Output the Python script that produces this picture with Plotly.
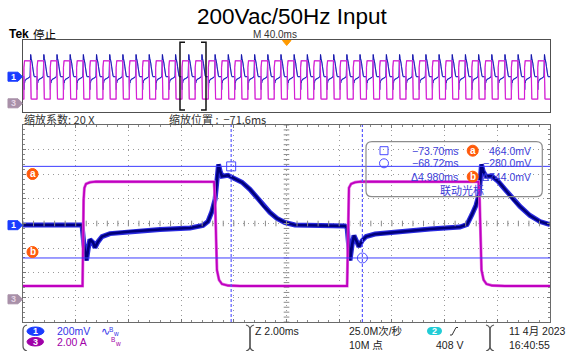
import numpy as np
import plotly.graph_objects as go

W, H = 566, 351

# ---------------- data ----------------
# Channel 1 (voltage, V) in the zoom window, time in ms
t1 = [-81.60, -79.36, -79.29, -79.19, -79.13, -79.06, -78.94, -78.87, -78.75, -78.60,
      -78.30, -77.54, -76.40, -75.26, -74.77, -74.58, -74.43, -74.31, -74.24, -74.18,
      -74.12, -74.05, -73.82, -73.55, -73.29, -72.99, -72.72, -72.49, -72.23, -71.96,
      -71.66, -71.28, -70.33, -69.38,
      -69.30, -69.25, -69.19, -69.11, -69.04, -68.92, -68.85, -68.73, -68.58, -68.24,
      -67.29, -66.15, -65.02, -64.75, -64.56, -64.41, -64.29, -64.24, -64.20, -64.14,
      -64.03, -63.80, -63.57, -63.31, -63.00, -62.74, -62.36, -61.98, -61.60]
v1 = [-0.012, -0.012, -0.17, -0.30, -0.21, -0.13, -0.155, -0.196, -0.147, -0.106,
      -0.082, -0.065, -0.049, -0.037, -0.016, 0.016, 0.098, 0.196, 0.36, 0.48,
      0.425, 0.384, 0.392, 0.36, 0.335, 0.278, 0.213, 0.147, 0.09, 0.041,
      0.008, -0.012, -0.016, -0.020,
      -0.033, -0.17, -0.30, -0.17, -0.098, -0.155, -0.188, -0.139, -0.106, -0.086,
      -0.065, -0.045, -0.029, -0.008, 0.074, 0.147, 0.237, 0.376, 0.48, 0.425,
      0.384, 0.384, 0.343, 0.278, 0.196, 0.139, 0.065, 0.016, -0.008]

# Channel 3 (current, A)
t3 = [-81.60, -79.34, -79.30, -79.27, -79.21, -79.06, -78.83, -74.35, -74.31, -74.28,
      -74.24, -74.16, -74.05, -73.82, -73.36,
      -69.30, -69.26, -69.23, -69.15, -69.00, -68.77, -64.31, -64.27, -64.24,
      -64.20, -64.12, -64.01, -63.80, -63.31, -61.60]
i3 = [1.08, 1.08, 8.07, 9.05, 9.37, 9.50, 9.56, 9.54, 8.07, 4.00,
      2.38, 1.57, 1.24, 1.12, 1.08,
      1.08, 8.07, 9.05, 9.37, 9.50, 9.56, 9.54, 8.07, 4.00,
      2.38, 1.57, 1.24, 1.12, 1.08, 1.08]

cursor_t = [-73.70, -68.72]     # ms
cursor_v = [0.464, -0.280]      # V
period_ms = 10.0
zoom_range = [-81.6, -61.6]
main_range = [-200.0, 200.0]
ch1_range = [-0.8, 0.8]
ch3_range = [-1.844, 14.156]

readout_time = ["\u221273.70ms", "\u221268.72ms", "\u03944.980ms"]
readout_volt = ["464.0mV", "\u2212280.0mV", "\u0394744.0mV"]

# ---------------- helpers ----------------
def px(x):
    return x / W

def py(y):
    return 1 - y / H

LAT = "Liberation Sans, Arial, Noto Sans CJK SC"
CJK = "Noto Sans CJK SC, Liberation Sans"

annotations = []
shapes = []

def txt(x, y, s, size=10, color="#222", anchor="left", family=LAT, vanchor="middle"):
    annotations.append(dict(x=px(x), y=py(y), xref="paper", yref="paper", text=s,
                            showarrow=False, xanchor=anchor, yanchor=vanchor,
                            font=dict(size=size, color=color, family=family),
                            borderpad=0))

def P(x, y):
    return f"{px(x):.5f},{py(y):.5f}"

def path(cmds, color, width=1, fill=None, close=False):
    d = []
    for cmd in cmds:
        op, nums = cmd[0], cmd[1:]
        if op in ("M", "L"):
            for k in range(0, len(nums), 2):
                d.append(f"{op}{P(nums[k], nums[k+1])}")
        elif op == "Q":
            for k in range(0, len(nums), 4):
                d.append(f"Q{P(nums[k], nums[k+1])} {P(nums[k+2], nums[k+3])}")
    s = " ".join(d)
    if close:
        s += " Z"
    shapes.append(dict(type="path", path=s, xref="paper", yref="paper",
                       line=dict(color=color, width=width),
                       fillcolor=fill if fill else "rgba(0,0,0,0)", layer="above"))

def ellipse(x0, y0, x1, y1, fill, line=None, width=1):
    shapes.append(dict(type="circle", xref="paper", yref="paper",
                       x0=px(x0), x1=px(x1), y0=py(y1), y1=py(y0),
                       fillcolor=fill, line=dict(color=line if line else fill, width=width),
                       layer="above"))

def rect(x0, y0, x1, y1, line, width=1, fill="rgba(0,0,0,0)"):
    shapes.append(dict(type="rect", xref="paper", yref="paper",
                       x0=px(x0), x1=px(x1), y0=py(y1), y1=py(y0),
                       fillcolor=fill, line=dict(color=line, width=width), layer="above"))

# ---------------- overview (tile the measured cycle) ----------------
t1a, v1a = np.array(t1), np.array(v1)
t3a, i3a = np.array(t3), np.array(i3)
m1 = (t1a >= -79.40) & (t1a < -69.40)
m3 = (t3a >= -79.40) & (t3a < -69.40)
ks = range(-13, 29)
ot1 = np.concatenate([t1a[m1] + period_ms * k for k in ks])
ov1 = np.tile(v1a[m1], len(ks))
ot3 = np.concatenate([t3a[m3] + period_ms * k for k in ks])
oi3 = np.tile(i3a[m3], len(ks))

fig = go.Figure()

# overview traces
fig.add_trace(go.Scatter(x=ot3, y=oi3, xaxis="x2", yaxis="y4", mode="lines",
                         line=dict(color="#e27ae2", width=1.3), hoverinfo="skip"))
fig.add_trace(go.Scatter(x=ot3, y=oi3, xaxis="x2", yaxis="y4", mode="lines",
                         line=dict(color="#d000d0", width=0.8), hoverinfo="skip"))
fig.add_trace(go.Scatter(x=ot1, y=ov1, xaxis="x2", yaxis="y3", mode="lines",
                         line=dict(color="#7070ff", width=1.2), hoverinfo="skip"))
fig.add_trace(go.Scatter(x=ot1, y=ov1, xaxis="x2", yaxis="y3", mode="lines",
                         line=dict(color="#10109a", width=0.8), hoverinfo="skip"))

# main traces
fig.add_trace(go.Scatter(x=t3, y=i3, xaxis="x", yaxis="y2", mode="lines",
                         line=dict(color="#e070e0", width=3), hoverinfo="skip"))
fig.add_trace(go.Scatter(x=t3, y=i3, xaxis="x", yaxis="y2", mode="lines",
                         line=dict(color="#c000c0", width=1.8), hoverinfo="skip"))
fig.add_trace(go.Scatter(x=t1, y=v1, xaxis="x", yaxis="y", mode="lines",
                         line=dict(color="#2a2ae0", width=5), hoverinfo="skip"))
fig.add_trace(go.Scatter(x=t1, y=v1, xaxis="x", yaxis="y", mode="lines",
                         line=dict(color="#00007a", width=2.6), hoverinfo="skip"))

# center crosshair ticks
minor_t = [zoom_range[0] + 0.4 * k for k in range(51)]
minor_v = [ch1_range[0] + 0.04 * k for k in range(41)]
fig.add_trace(go.Scatter(x=[-71.6] * len(minor_v), y=minor_v, xaxis="x", yaxis="y",
                         mode="markers", marker=dict(symbol="line-ew", size=4,
                         line=dict(color="#8a8a8a", width=1)), hoverinfo="skip"))
fig.add_trace(go.Scatter(x=minor_t, y=[0] * len(minor_t), xaxis="x", yaxis="y",
                         mode="markers", marker=dict(symbol="line-ns", size=4,
                         line=dict(color="#8a8a8a", width=1)), hoverinfo="skip"))

# cursor markers
fig.add_trace(go.Scatter(x=[cursor_t[0]], y=[cursor_v[0]], xaxis="x", yaxis="y",
                         mode="markers", marker=dict(symbol="square-open", size=9,
                         color="#4a4aff", line=dict(width=1)), hoverinfo="skip"))
fig.add_trace(go.Scatter(x=[cursor_t[1]], y=[cursor_v[1]], xaxis="x", yaxis="y",
                         mode="markers", marker=dict(symbol="circle-open", size=10,
                         color="#4a4aff", line=dict(width=1)), hoverinfo="skip"))

# cursor lines
for v in cursor_v:
    shapes.append(dict(type="line", xref="x domain", yref="y", x0=0, x1=1, y0=v, y1=v,
                       line=dict(color="#3c3cff", width=1), layer="above"))
for t in cursor_t:
    shapes.append(dict(type="line", xref="x", yref="y domain", x0=t, x1=t, y0=0, y1=1,
                       line=dict(color="#5a5aff", width=1.2, dash="3px,2px"), layer="above"))

# ---------------- decorations ----------------
# overview bracket (zoom window)
path([("M", 185, 42.3), ("L", 180, 42.3, 180, 110, 185, 110)], "#111", 1.5)
path([("M", 201, 42.3), ("L", 206, 42.3, 206, 110, 201, 110)], "#111", 1.5)
# trigger marker
path([("M", 282.5, 40.5), ("L", 291, 40.5, 286.7, 45.5)], "#ff9a00", 1, "#ff9a00", True)

# channel markers
def chmark(yc, fill, label, tcol):
    path([("M", 8, yc - 4.5), ("L", 18, yc - 4.5, 22.5, yc, 18, yc + 4.5, 8, yc + 4.5)],
         fill, 1, fill, True)
    txt(13.5, yc, f"<b>{label}</b>", 9, tcol, "center")

chmark(76.7, "#1a3cff", "1", "#ffffff")
chmark(103.3, "#a890a8", "3", "#e4d4e4")
chmark(225.2, "#1a3cff", "1", "#ffffff")
chmark(299.3, "#a890a8", "3", "#e4d4e4")

# a / b markers
for (cx, cy, lab) in [(32.5, 174, "a"), (32.5, 252, "b"), (472.7, 150.7, "a"), (472.7, 176.7, "b")]:
    ellipse(cx - 5.5, cy - 5.5, cx + 5.5, cy + 5.5, "#ff5a0a")
    txt(cx, cy - 0.5, f"<b>{lab}</b>", 10, "#ffffff", "center")

# readout box
x0b, y0b, x1b, y1b, r = 366, 141.7, 542.3, 196.7, 6
path([("M", x0b + r, y0b), ("L", x1b - r, y0b), ("Q", x1b, y0b, x1b, y0b + r),
      ("L", x1b, y1b - r), ("Q", x1b, y1b, x1b - r, y1b), ("L", x0b + r, y1b),
      ("Q", x0b, y1b, x0b, y1b - r), ("L", x0b, y0b + r), ("Q", x0b, y0b, x0b + r, y0b)],
     "#8c8c8c", 1.2)
rect(380, 146.7, 388, 154.7, "#4a4aff", 1)
ellipse(379.5, 158.8, 388.5, 167.8, "rgba(0,0,0,0)", "#4a4aff", 1)
rc = "#3c3cd8"
rows = [150.7, 163.3, 176.7]
for k in range(3):
    txt(458.5, rows[k], readout_time[k], 10.5, rc, "right")
    txt(532, rows[k], readout_volt[k], 10.5, rc, "right")
txt(461.7, 190, "联动光标", 11, rc, "center", CJK)

# top texts
txt(292, 16.5, "200Vac/50Hz Input", 22.5, "#000000", "center")
txt(7.5, 33.5, "<b>Tek</b>", 12, "#000000", "left")
txt(32, 33.5, "停止", 11.5, "#000000", "left", CJK)
txt(275, 34.5, "M 40.0ms", 10, "#333333", "center")
txt(23, 118.5, "缩放系数: 20 X", 11, "#333333", "left", CJK)
txt(168, 118.5, "缩放位置 :  \u221271.6ms", 11, "#333333", "left", CJK)

# bottom info bar
path([("M", 27, 325), ("Q", 23, 326, 23, 330), ("L", 23, 346), ("Q", 23, 350, 27, 351)], "#555", 1.2)
for xs in [250, 490]:
    path([("M", xs - 4, 325), ("Q", xs, 326, xs, 330), ("L", xs, 346), ("Q", xs, 350, xs - 4, 351)], "#555", 1.2)
    path([("M", xs + 4, 325), ("Q", xs, 326, xs, 330), ("L", xs, 346), ("Q", xs, 350, xs + 4, 351)], "#555", 1.2)

ellipse(27, 327, 44, 335.5, "#1a3cff")
txt(35.5, 331.2, "<b>1</b>", 9, "#ffffff", "center")
ellipse(27, 337.5, 43.5, 346, "#a000a8")
txt(35.3, 341.7, "<b>3</b>", 9, "#ffffff", "center")
txt(56, 331.2, "200mV", 10.5, "#3434e8", "left")
txt(56, 342, "2.00 A", 10.5, "#a000a8", "left")
txt(100, 331.5, "\u223f", 11, "#3434e8", "left", "DejaVu Sans")
txt(108, 329, "B", 6.5, "#3434e8", "left")
txt(112, 333, "w", 6.5, "#3434e8", "left")
txt(110, 339.5, "B", 6.5, "#a000a8", "left")
txt(114, 343.5, "w", 6.5, "#a000a8", "left")

txt(254, 331.2, "Z 2.00ms", 10.5, "#222", "left")
txt(348, 331.2, "25.0M次/秒", 10.5, "#222", "left", LAT)
txt(348, 344.5, "10M 点", 10.5, "#222", "left", LAT)
path([("M", 431, 327.5), ("L", 438, 327.5), ("Q", 441.5, 327.5, 441.5, 331),
      ("Q", 441.5, 334.5, 438, 334.5), ("L", 431, 334.5), ("Q", 427.5, 334.5, 427.5, 331),
      ("Q", 427.5, 327.5, 431, 327.5)], "#22ccd6", 1, "#22ccd6", True)
txt(434.5, 331.2, "<b>2</b>", 9, "#ffffff", "center")
path([("M", 450, 335), ("L", 452, 335, 456, 327.5, 458, 327.5)], "#333", 1)
txt(435, 344.5, "408 V", 10.5, "#222", "left")
txt(508, 331.2, "11 4月 2023", 10.5, "#222", "left", LAT)
txt(508, 344.5, "16:40:55", 10.5, "#222", "left")

# ---------------- axes ----------------
xdom = [px(23), px(550)]
main_dom = [py(322), py(125)]
over_dom = [py(112.3), py(40)]
grid = dict(gridcolor="#9a9a9a", griddash="1px,4px", gridwidth=1)

fig.update_layout(
    width=W, height=H, margin=dict(l=0, r=0, t=0, b=0),
    paper_bgcolor="white", plot_bgcolor="white", showlegend=False,
    xaxis=dict(domain=xdom, range=zoom_range, anchor="y", showgrid=True, tick0=zoom_range[0],
               dtick=2, zeroline=False, showticklabels=False, ticks="inside", ticklen=3,
               tickcolor="#777", showline=True, linecolor="#6a6a6a", linewidth=1.2,
               mirror="ticks", minor=dict(ticks="inside", ticklen=2, dtick=0.4,
                                          tickcolor="#888", showgrid=False), **grid),
    yaxis=dict(domain=main_dom, range=ch1_range, anchor="x", showgrid=True, tick0=0, dtick=0.2,
               zeroline=False, showticklabels=False, ticks="inside", ticklen=3, tickcolor="#777",
               showline=True, linecolor="#6a6a6a", linewidth=1.2, mirror="ticks",
               minor=dict(ticks="inside", ticklen=2, dtick=0.04, tickcolor="#888",
                          showgrid=False), **grid),
    yaxis2=dict(overlaying="y", range=ch3_range, visible=False, anchor="x"),
    xaxis2=dict(domain=xdom, range=main_range, anchor="y3", showgrid=False, zeroline=False,
                showticklabels=False, showline=True, linecolor="#505050", linewidth=1.2,
                mirror=True, ticks=""),
    yaxis3=dict(domain=over_dom, range=ch1_range, anchor="x2", showgrid=False, zeroline=False,
                showticklabels=False, showline=True, linecolor="#505050", linewidth=1.2,
                mirror=True, ticks=""),
    yaxis4=dict(overlaying="y3", range=ch3_range, visible=False, anchor="x2"),
    annotations=annotations, shapes=shapes,
)

fig.write_html("out.html")
